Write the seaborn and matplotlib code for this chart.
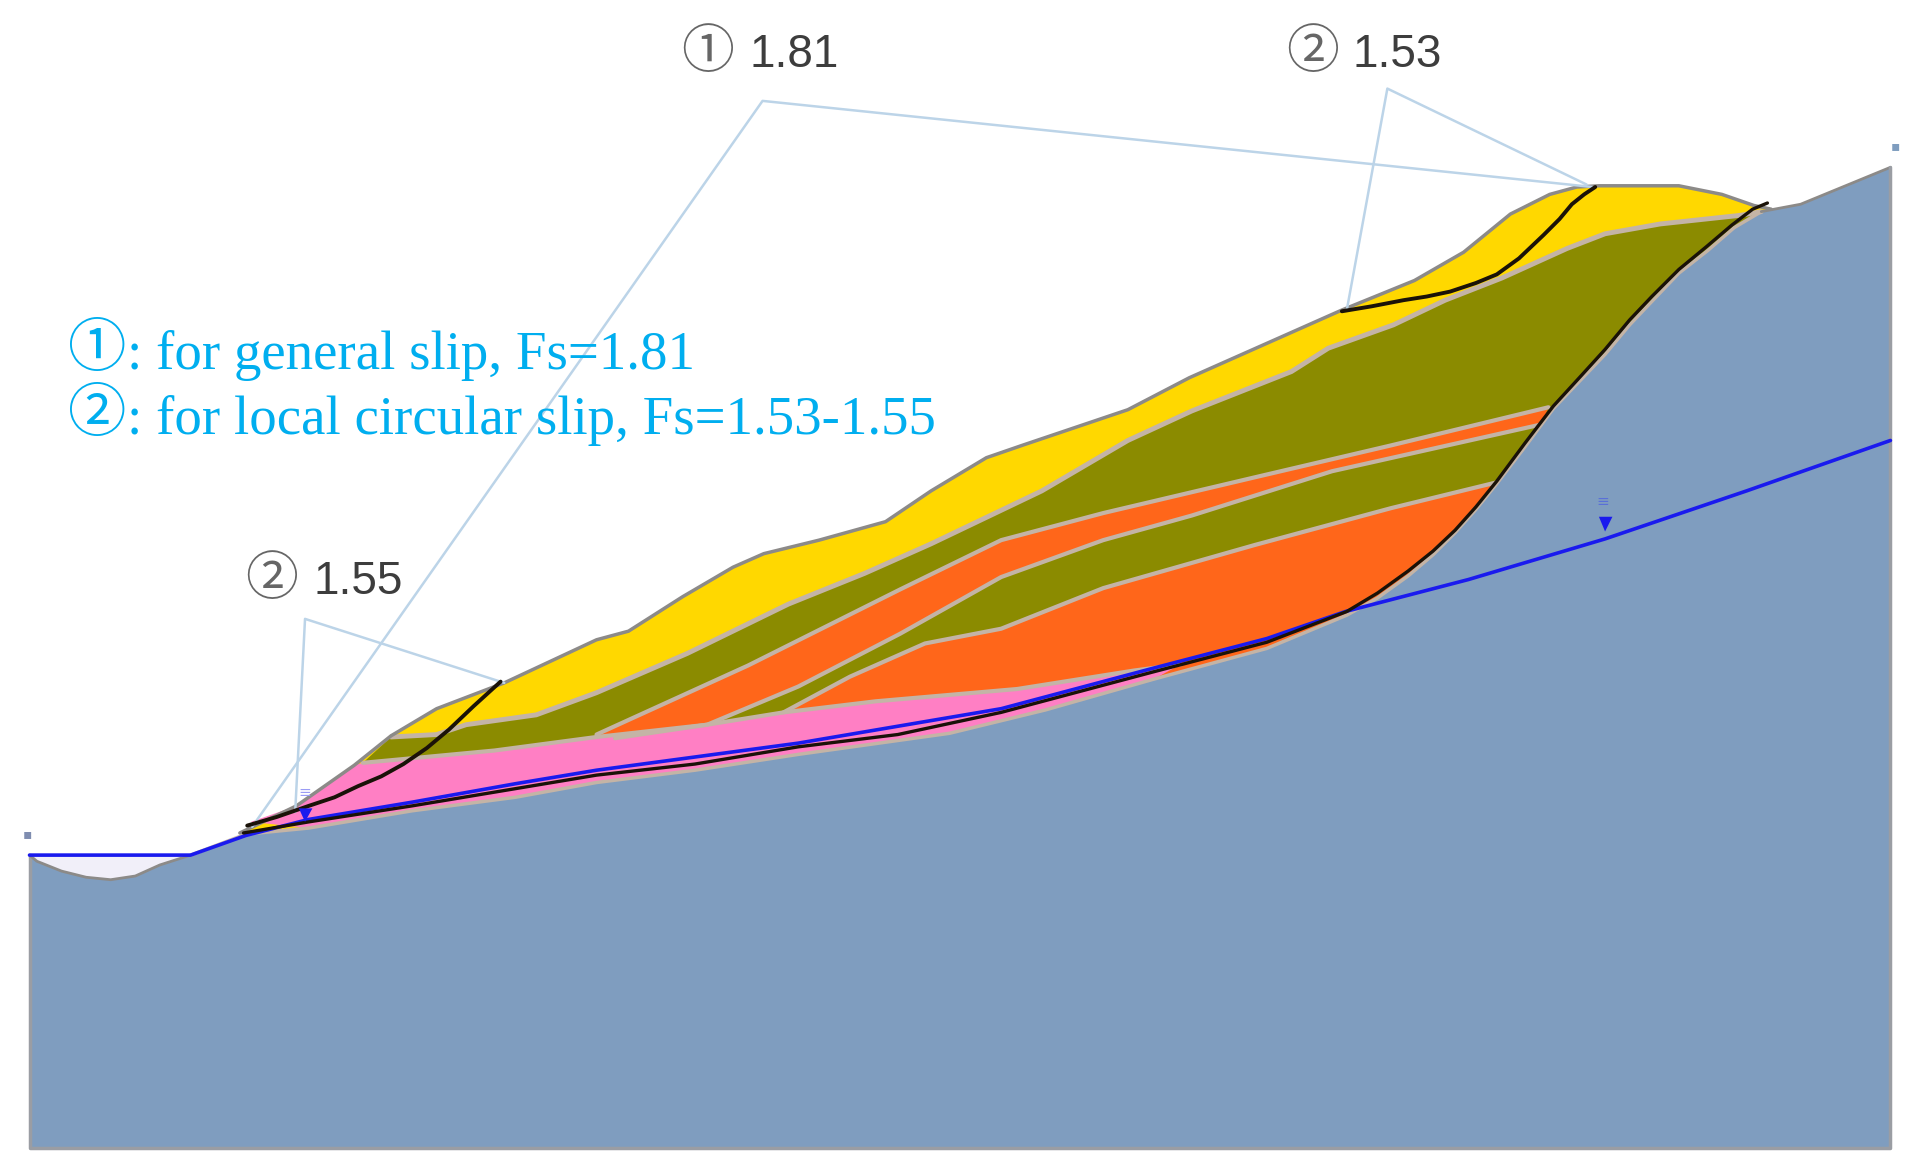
import matplotlib
matplotlib.use("Agg")
import matplotlib.pyplot as plt
import seaborn as sns
import pandas as pd

sns.set_theme(style="white")

# All profiles are (x, y)
ground_x = [24,30,50,70,90,110,130,155,200,251,335,419,485,565,650,772,850,938,1030,1095,1120,1145,1165,1183,1200,1217,1240,1263,1285,1305,1325,1343,1365,1388,1410,1432,1464,1537]
ground_y = [695,700,708,713,715,712,703,695,678,673,659,648,636,626,613,596,577,552,527,500,486,468,451,433,414,393,363,332,309,288,264,245,222,204,185,172,166,136]
surface_x = [195,241,288,318,355,410,485,511,555,596,621,666,720,757,802,831,917,967,1091,1150,1190,1228,1260,1282,1300,1365,1400,1426,1440]
surface_y = [677,655,622,598,576,555,520,513,485,461,450,439,424,399,372,362,333,307,252,228,205,174,158,152,151,151,158,167,170]
yo_x = [295,318,355,379,436,485,559,641,703,757,847,917,969,1050,1080,1133,1175,1221,1274,1305,1350,1415,1432]
yo_y = [620,599,597,589,581,563,531,491,466,442,399,358,334,302,283,264,244,226,202,190,182,175,172]
orange1_top_x = [485,608,732,814,897,1020,1131,1259]
orange1_top_y = [597,541,479,439,417,388,362,331]
orange1_bot_x = [1253,1083,969,897,814,732,649,575,500]
orange1_bot_y = [345,383,419,439,469,515,558,589,600]
orange2_top_x = [637,691,752,814,897,1020,1131,1217]
orange2_top_y = [579,550,523,511,478,443,413,392]
pink_top_x = [204,241,288,295,338,402,485,575,637,712,827,922,960]
pink_top_y = [668,655,622,620,616,610,599,589,579,570,560,545,540]
slip_gen_x = [198,251,335,419,485,565,649,730,814,938,1030,1095,1120,1145,1165,1183,1200,1217,1240,1263,1285,1305,1325,1343,1365,1388,1408,1425,1437]
slip_gen_y = [677,668,655,641,630,621,607,597,579,546,522,497,482,464,448,431,412,391,360,330,306,284,260,241,219,200,183,170,165]
slip_r_x = [1091,1115,1141,1160,1179,1200,1217,1235,1255,1268,1278,1288,1297]
slip_r_y = [253,249,244,241,237,230,223,210,191,178,166,158,152]
slip_l_x = [201,225,251,272,291,310,328,347,365,385,407]
slip_l_y = [671,664,655,648,639,631,621,608,593,574,554]
water_x = [24,155,200,251,335,419,485,649,814,938,1030,1094,1194,1305,1420,1537]
water_y = [695,695,679,666,652,637,626,604,576,543,519,497,471,438,399,358]
pool_x = [24,30,50,70,90,110,130,155]
pool_y = [695,700,708,713,715,712,703,695]
lead1_x = [205,620,1295]; lead1_y = [672,82,152]
lead2_x = [1095,1128,1290]; lead2_y = [252,72,150]
lead3_x = [240,248,410]; lead3_y = [660,503,555]
labels = ["1.81", "1.53", "1.55"]
circles = ["\u2460", "\u2461", "\u2461"]
note1 = ": for general slip, Fs=1.81"
note2 = ": for local circular slip, Fs=1.53-1.55"

GROUND, YEL, OLV, ORG, PNK = "#7f9dbf", "#ffd800", "#8b8b00", "#ff661a", "#ff7fc4"
EDGE, TAN, LEAD, CYAN = "#8c8a88", "#c4b4a6", "#bcd4e8", "#00aeef"

fig = plt.figure(figsize=(19.31, 11.75), dpi=100)
ax = fig.add_axes([0, 0, 1, 1])
ax.set_xlim(0, 1570); ax.set_ylim(955, 0); ax.axis("off")

def line(x, y, color, lw, z=5, ls="-"):
    d = pd.DataFrame({"x": x, "y": y})
    sns.lineplot(data=d, x="x", y="y", sort=False, estimator=None, color=color,
                 linewidth=lw, ax=ax, zorder=z, linestyle=ls, legend=False)

def layer(top_x, top_y, color, z):
    # close a layer along the part of the bedrock profile beneath it
    lo, hi = min(top_x), max(top_x)
    under = [(a, b) for a, b in zip(ground_x, ground_y) if lo <= a <= hi][::-1]
    ax.fill(top_x + [p[0] for p in under], top_y + [p[1] for p in under], color=color, lw=0, zorder=z)

layer(surface_x, surface_y, YEL, 1)
layer(yo_x, yo_y, OLV, 1.1)
ax.fill(orange1_top_x + orange1_bot_x, orange1_top_y + orange1_bot_y, color=ORG, lw=0, zorder=1.2)
layer(orange2_top_x, orange2_top_y, ORG, 1.3)
layer(pink_top_x, pink_top_y, PNK, 1.4)
ax.fill(pool_x, pool_y, color="#f1eff9", lw=0, zorder=1.5)
ax.fill(ground_x + [1537, 24], ground_y + [933, 933], color=GROUND, lw=0, zorder=2)

line(yo_x[1:], yo_y[1:], TAN, 3.5, 3)
line(orange1_top_x, orange1_top_y, TAN, 3, 3)
line(orange1_bot_x, orange1_bot_y, TAN, 3, 3)
line(orange2_top_x, orange2_top_y, TAN, 3, 3)
line(pink_top_x[3:], pink_top_y[3:], TAN, 3, 3)
line(ground_x[7:-2], ground_y[7:-2], TAN, 2.5, 3)
line(ground_x[-3:], ground_y[-3:], EDGE, 2, 3)
line(surface_x, surface_y, EDGE, 2.5, 3.5)
line([24, 24, 1537, 1537], [695, 933, 933, 136], "#9a9da3", 2.5, 3)
line(pool_x, pool_y, EDGE, 2, 3)

line(lead1_x, lead1_y, LEAD, 1.8, 4)
line(lead2_x, lead2_y, LEAD, 1.8, 4)
line(lead3_x, lead3_y, LEAD, 1.8, 4)

line(water_x, water_y, "#1a1aee", 2.6, 6)
line(slip_gen_x, slip_gen_y, "#1a1208", 2.4, 7)
line(slip_r_x, slip_r_y, "#1a1208", 2.8, 7)
line(slip_l_x, slip_l_y, "#1a1208", 2.8, 7)

ax.fill([1300, 1311, 1305], [420, 420, 432], color="#1a1aee", lw=0, zorder=8)
ax.fill([243, 254, 248], [657, 657, 668], color="#1a1aee", lw=0, zorder=8)
ax.text(1303, 408, "\u2261", color="#5a70d8", fontsize=11, ha="center", va="center", zorder=8)
ax.text(248, 644, "\u2261", color="#9a9cf5", fontsize=11, ha="center", va="center", zorder=8)
ax.text(22, 678, "\u25aa", color="#7f8db0", fontsize=10, ha="center", va="center", zorder=8)
ax.text(1541, 119, "\u25aa", color="#7f9dbf", fontsize=10, ha="center", va="center", zorder=8)

for cx, tx, y, c, lab in zip([575, 1067, 221], [609, 1100, 255], [43, 43, 471], circles, labels):
    ax.text(cx, y, c, family=["Noto Sans CJK SC", "DejaVu Sans"], fontsize=38, color="#666666", ha="center", va="center", zorder=9)
    ax.text(tx, y + 2, lab, family="Liberation Sans", fontsize=33, color="#3d3d3d", ha="left", va="center", zorder=9)

for y, c, s in zip([284, 337], circles[:2], [note1, note2]):
    ax.text(79, y, c, family=["Noto Sans CJK SC", "DejaVu Sans"], fontsize=42, color=CYAN, ha="center", va="center", zorder=9)
    ax.text(103, y + 16, s, family="Liberation Serif", fontsize=39.5, color=CYAN, ha="left", va="baseline", zorder=9)

fig.savefig("out.png", dpi=100, facecolor="white")
